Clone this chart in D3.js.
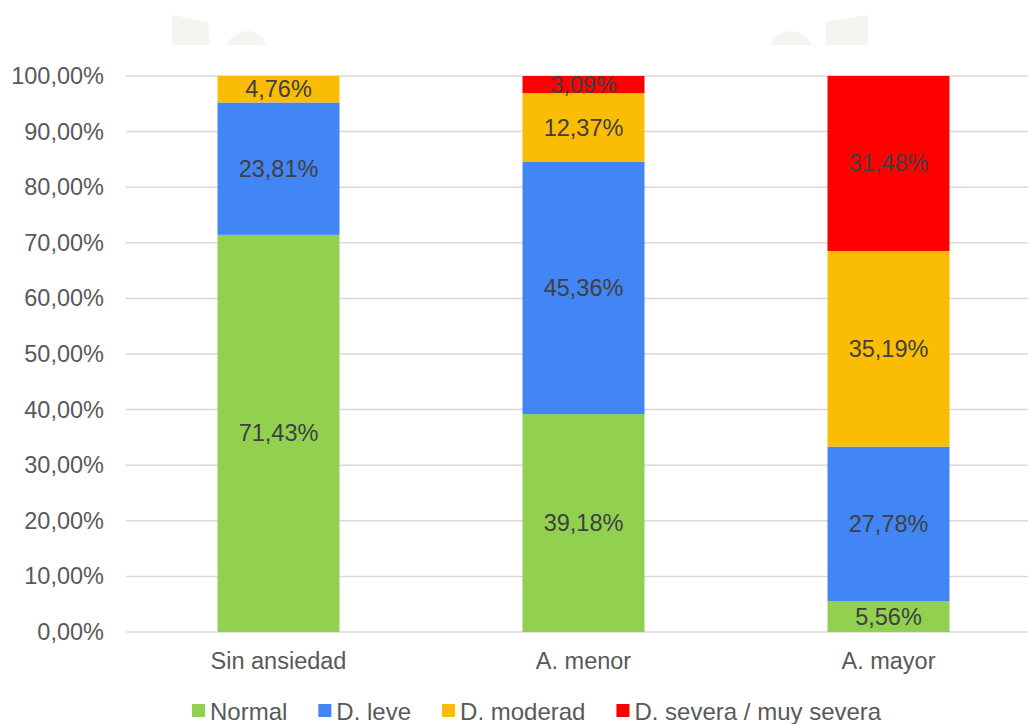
<!DOCTYPE html>
<html>
<head>
<meta charset="utf-8">
<script src="https://cdn.jsdelivr.net/npm/d3@7"></script>
<style>
  html, body { margin: 0; padding: 0; background: #fff; }
  svg { display: block; font-family: "Liberation Sans", Arial, sans-serif; }
</style>
</head>
<body>
<svg id="chart" width="1028" height="724"></svg>
<script>
const categories = ["Sin ansiedad", "A. menor", "A. mayor"];
const seriesNames = ["Normal", "D. leve", "D. moderad", "D. severa / muy severa"];
const normal   = [71.43, 39.18, 5.56];
const leve     = [23.81, 45.36, 27.78];
const moderad  = [4.76, 12.37, 35.19];
const severa   = [0, 3.09, 31.48];
const yTicks = [0, 10, 20, 30, 40, 50, 60, 70, 80, 90, 100];
const colors = ["#92D050", "#4285F4", "#FBBC04", "#FF0000"];

const seriesValues = [normal, leve, moderad, severa];
const keys = ["s0", "s1", "s2", "s3"];
const table = categories.map((c, i) => {
  const row = { cat: c };
  keys.forEach((k, j) => row[k] = seriesValues[j][i]);
  return row;
});

const svg = d3.select("#chart");
const plotL = 126, plotR = 1041, plotT = 76, plotB = 632;

const x = d3.scaleBand().domain(categories).range([plotL, plotR]).paddingInner(0.6).paddingOuter(0.3);
const y = d3.scaleLinear().domain([0, 100]).range([plotB, plotT]);

const fmt = v => d3.format(".2f")(v).replace(".", ",") + "%";

// faint background artifacts at top
const deco = svg.append("g").attr("fill", "#EDECE7").attr("opacity", 0.55);
deco.append("path").attr("d", "M172,15 L208,22 L210,45 L172,45 Z");
deco.append("path").attr("d", "M226,45 Q235,30 250,31 Q262,33 266,45 Z");
deco.append("path").attr("d", "M770,45 Q775,32 790,31 Q805,31 812,45 Z");
deco.append("path").attr("d", "M826,22 L868,15 L868,45 L826,45 Z");

// gridlines
svg.append("g").selectAll("line").data(yTicks).join("line")
  .attr("x1", plotL).attr("x2", 1028)
  .attr("y1", d => y(d)).attr("y2", d => y(d))
  .attr("stroke", "#D9D9D9").attr("stroke-width", 1.5);

// y tick labels
svg.append("g").selectAll("text").data(yTicks).join("text")
  .attr("x", 104).attr("y", d => y(d))
  .attr("text-anchor", "end").attr("dominant-baseline", "central")
  .attr("font-size", 23.5).attr("fill", "#595959")
  .text(d => fmt(d));

// stacked bars
const stacked = d3.stack().keys(keys)(table);
const layers = svg.append("g").selectAll("g").data(stacked).join("g")
  .attr("fill", (d, i) => colors[i]);
layers.selectAll("rect").data(d => d).join("rect")
  .attr("x", d => x(d.data.cat))
  .attr("width", x.bandwidth())
  .attr("y", d => y(d[1]))
  .attr("height", d => y(d[0]) - y(d[1]));

// data labels
const lab = svg.append("g");
stacked.forEach((layer, i) => {
  lab.append("g").selectAll("text").data(layer.filter(d => d[1] - d[0] > 0)).join("text")
    .attr("x", d => x(d.data.cat) + x.bandwidth() / 2)
    .attr("y", d => (y(d[0]) + y(d[1])) / 2)
    .attr("text-anchor", "middle").attr("dominant-baseline", "central")
    .attr("font-size", 23.5).attr("fill", "#404040")
    .text(d => fmt(d[1] - d[0]));
});

// category labels
svg.append("g").selectAll("text").data(categories).join("text")
  .attr("x", d => x(d) + x.bandwidth() / 2).attr("y", 661)
  .attr("text-anchor", "middle").attr("dominant-baseline", "central")
  .attr("font-size", 23.5).attr("fill", "#595959")
  .text(d => d);

// legend
const legend = svg.append("g");
let lx = 192;
seriesNames.forEach((name, i) => {
  legend.append("rect").attr("x", lx).attr("y", 704).attr("width", 13).attr("height", 13).attr("fill", colors[i]);
  const t = legend.append("text").attr("x", lx + 18).attr("y", 711)
    .attr("dominant-baseline", "central").attr("font-size", 24).attr("fill", "#595959").text(name);
  lx += 18 + t.node().getComputedTextLength() + 31;
});
</script>
</body>
</html>
